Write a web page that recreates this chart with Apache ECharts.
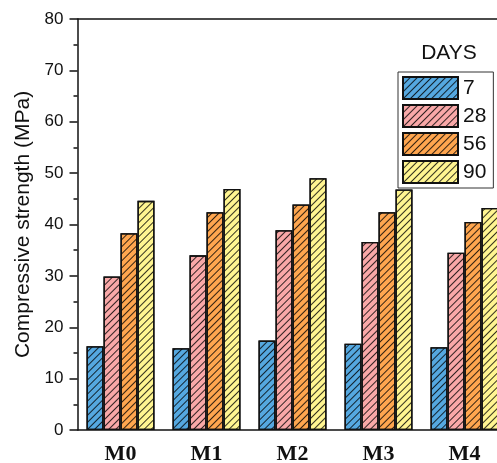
<!DOCTYPE html>
<html>
<head>
<meta charset="utf-8">
<script src="https://cdn.jsdelivr.net/npm/echarts@6/dist/echarts.min.js"></script>
<style>
html,body{margin:0;padding:0;background:#fff;overflow:hidden;}
#chart{width:497px;height:463px;}
</style>
</head>
<body>
<div id="chart"></div>
<script>
var categories = ['M0', 'M1', 'M2', 'M3', 'M4'];
var seriesNames = ['7', '28', '56', '90'];
var days7 = [16.3, 15.9, 17.4, 16.8, 16.1];
var days28 = [29.9, 34.0, 38.9, 36.6, 34.5];
var days56 = [38.3, 42.4, 43.9, 42.4, 40.5];
var days90 = [44.6, 46.9, 49.0, 46.8, 43.2];
var yTicks = [0, 10, 20, 30, 40, 50, 60, 70, 80];

var colors = ['#55A8E0', '#F9A8A8', '#FFA64F', '#FFF591'];
var values = [days7, days28, days56, days90];

var sans = "'Liberation Sans', Arial, sans-serif";
var serif = "'Liberation Serif', 'Times New Roman', serif";

var decal = {
  symbol: 'rect',
  symbolSize: 1,
  dashArrayX: [1, 0],
  dashArrayY: [0.9, 3.6],
  rotation: -Math.PI / 4,
  color: 'rgba(0,0,0,0.8)'
};

var chart = echarts.init(document.getElementById('chart'), null, {renderer: 'canvas'});

var series = seriesNames.map(function (n, i) {
  return {
    name: n,
    type: 'bar',
    xAxisIndex: 0,
    yAxisIndex: 0,
    data: values[i],
    barWidth: 17,
    barGap: '0%',
    itemStyle: {
      color: colors[i],
      borderColor: '#111',
      borderWidth: 1.3,
      decal: decal
    },
    emphasis: {disabled: true}
  };
});

var lineStyle = {color: '#111', width: 1.5};

chart.setOption({
  animation: false,
  backgroundColor: '#fff',
  title: {
    text: 'DAYS',
    left: 449,
    top: 43,
    padding: 0,
    textAlign: 'center',
    textStyle: {fontFamily: sans, fontSize: 21, fontWeight: 'normal', color: '#111'}
  },
  legend: {
    orient: 'vertical',
    left: 398,
    top: 72,
    padding: [4, 7, 4, 4],
    itemWidth: 55,
    itemHeight: 22,
    itemGap: 4,
    itemTextGap: 8,
    borderColor: '#333',
    borderWidth: 1,
    icon: 'rect',
    data: seriesNames,
    textStyle: {fontFamily: sans, fontSize: 21, color: '#111'}
  },
  grid: {left: 77.5, top: 19, width: 430, height: 411, outerBoundsMode: 'none', containLabel: false},
  xAxis: [
    {
      type: 'category', position: 'bottom', data: categories,
      axisLine: {lineStyle: lineStyle},
      axisTick: {alignWithLabel: true, length: 4, lineStyle: lineStyle},
      axisLabel: {fontFamily: serif, fontWeight: 'bold', fontSize: 22, color: '#111', margin: 13}
    },
    {
      type: 'category', position: 'bottom', data: categories,
      axisLine: {show: false},
      axisTick: {alignWithLabel: false, length: 3, lineStyle: lineStyle},
      axisLabel: {show: false}
    },
    {
      type: 'category', position: 'top', data: categories,
      axisLine: {lineStyle: lineStyle},
      axisTick: {alignWithLabel: true, inside: true, length: 7, lineStyle: lineStyle},
      axisLabel: {show: false}
    },
    {
      type: 'category', position: 'top', data: categories,
      axisLine: {show: false},
      axisTick: {alignWithLabel: false, inside: true, length: 3.5, lineStyle: lineStyle},
      axisLabel: {show: false}
    }
  ],
  yAxis: [{
    type: 'value',
    min: yTicks[0],
    max: yTicks[yTicks.length - 1],
    interval: 10,
    name: 'Compressive strength (MPa)',
    nameLocation: 'middle',
    nameGap: 43,
    nameTextStyle: {fontFamily: sans, fontSize: 21, color: '#111'},
    axisLine: {show: true, lineStyle: lineStyle},
    axisTick: {show: true, length: 8, lineStyle: lineStyle},
    minorTick: {show: true, splitNumber: 2, length: 4, lineStyle: lineStyle},
    splitLine: {show: false},
    axisLabel: {fontFamily: sans, fontSize: 17, color: '#111', margin: 14}
  }],
  series: series
});
</script>
</body>
</html>
